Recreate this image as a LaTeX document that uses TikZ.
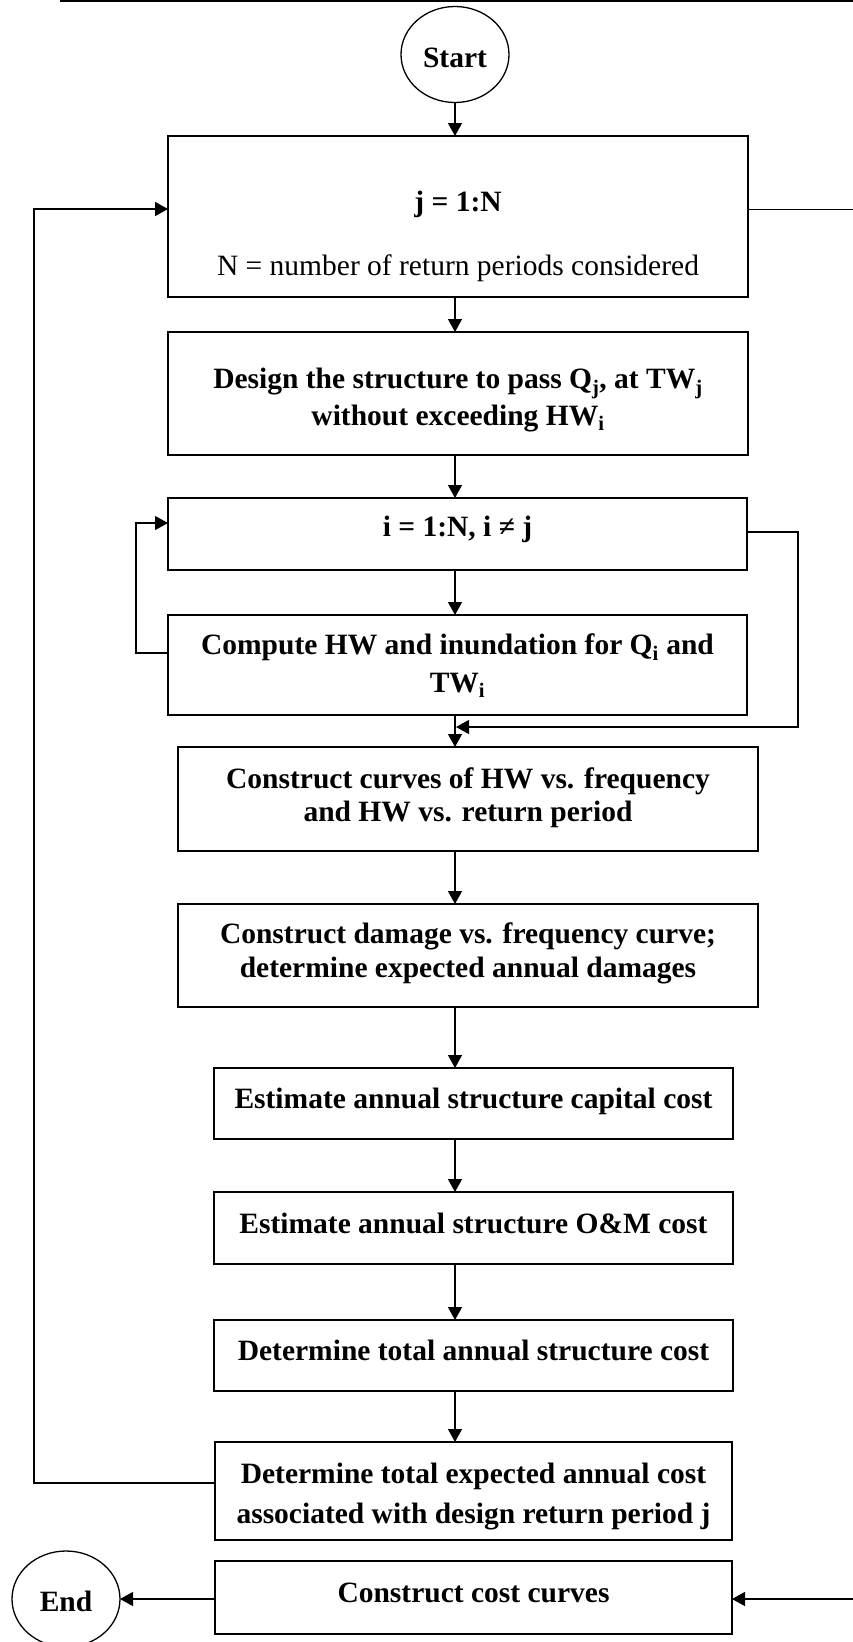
\documentclass[tikz,border=0pt]{standalone}
\usepackage{fontspec}
\setmainfont{Liberation Serif}
\usetikzlibrary{arrows.meta,shapes.geometric}
\begin{document}
\begin{tikzpicture}[x=1pt,y=-1pt,
  txt/.style={anchor=base, inner sep=0pt, font=\fontsize{29.5}{33}\selectfont\bfseries},
  rtxt/.style={anchor=base, inner sep=0pt, font=\fontsize{29.5}{33}\selectfont},
  box/.style={draw, line width=1.3pt, rectangle, inner sep=0pt, outer sep=0pt},
  term/.style={draw, line width=1.3pt, ellipse, inner sep=0pt, outer sep=0pt, minimum width=108pt, minimum height=96pt},
  arr/.style={line width=1.3pt, -{Triangle[length=13pt,width=14pt]}},
  ln/.style={line width=1.3pt}]
\useasboundingbox (0,0) rectangle (853,1642);
\fill[white] (0,0) rectangle (853,1642);

% top rule
\coordinate (T1) at (60,1);
\coordinate (T2) at (853,1);
\draw[line width=2pt] (T1) -- (T2);

% terminals
\node[term] (Start) at (455,54.5) {};
\node[txt] (StartT) at (455,67.5) {Start};
\node[term] (End) at (66,1599) {};
\node[txt] (EndT) at (66,1611) {End};

% boxes
\node[box, minimum width=580pt, minimum height=161pt] (B1) at (458,216.5) {};
\node[txt]  (B1a) at (458,211.5) {j = 1:N};
\node[rtxt] (B1b) at (458,275) {N = number of return periods considered};

\node[box, minimum width=580pt, minimum height=123pt] (B2) at (458,393.5) {};
\node[txt] (B2a) at (458,388.5) {Design the structure to pass Q\textsubscript{j}, at TW\textsubscript{j}};
\node[txt] (B2b) at (458,425) {without exceeding HW\textsubscript{i}};

\node[box, minimum width=579pt, minimum height=72pt] (B3) at (457.5,534) {};
\node[txt] (B3a) at (457.5,536.5) {i = 1:N, i ≠ j};

\node[box, minimum width=579pt, minimum height=100pt] (B4) at (457.5,665) {};
\node[txt] (B4a) at (457.5,654.5) {Compute HW and inundation for Q\textsubscript{i} and};
\node[txt] (B4b) at (457.5,692) {TW\textsubscript{i}};

\node[box, minimum width=580pt, minimum height=104pt] (B5) at (468,799) {};
\node[txt] (B5a) at (468,788) {Construct curves of HW vs. frequency};
\node[txt] (B5b) at (468,821) {and HW vs. return period};

\node[box, minimum width=580pt, minimum height=103pt] (B6) at (468,955.5) {};
\node[txt] (B6a) at (468,943) {Construct damage vs. frequency curve;};
\node[txt] (B6b) at (468,977) {determine expected annual damages};

\node[box, minimum width=519pt, minimum height=71pt] (B7) at (473.5,1103.5) {};
\node[txt] (B7a) at (473.5,1108) {Estimate annual structure capital cost};

\node[box, minimum width=519pt, minimum height=72pt] (B8) at (473.5,1228) {};
\node[txt] (B8a) at (473.5,1233) {Estimate annual structure O\&M cost};

\node[box, minimum width=519pt, minimum height=71pt] (B9) at (473.5,1355.5) {};
\node[txt] (B9a) at (473.5,1360.5) {Determine total annual structure cost};

\node[box, minimum width=517pt, minimum height=98pt] (B10) at (473.5,1491) {};
\node[txt] (B10a) at (473.5,1483) {Determine total expected annual cost};
\node[txt] (B10b) at (473.5,1523) {associated with design return period j};

\node[box, minimum width=517pt, minimum height=73pt] (B11) at (473.5,1597.5) {};
\node[txt] (B11a) at (473.5,1602.5) {Construct cost curves};

% main column
\coordinate (col) at (455,0);
\draw[arr] (Start.south) -- (col |- B1.north);
\draw[arr] (col |- B1.south) -- (col |- B2.north);
\draw[arr] (col |- B2.south) -- (col |- B3.north);
\draw[arr] (col |- B3.south) -- (col |- B4.north);
\draw[arr] (col |- B4.south) -- (col |- B5.north);
\draw[arr] (col |- B5.south) -- (col |- B6.north);
\draw[arr] (col |- B6.south) -- (col |- B7.north);
\draw[arr] (col |- B7.south) -- (col |- B8.north);
\draw[arr] (col |- B8.south) -- (col |- B9.north);
\draw[arr] (col |- B9.south) -- (col |- B10.north);

% inner loops
\draw[arr] ([yshift=12pt]B4.west) -| ([xshift=-32pt,yshift=11pt]B3.west) -- ([yshift=11pt]B3.west);
\coordinate (RJ) at (456,727);
\draw[arr] ([yshift=2pt]B3.east) -- ++(51,0) |- (RJ);

% outer loop
\draw[arr, line width=1.8pt] ([yshift=8pt]B10.west) -| ([xshift=-134pt,yshift=7.5pt]B1.west) -- ([yshift=7.5pt]B1.west);

% right exits
\coordinate (RE1) at (853,209.5);
\draw[ln] ([yshift=7pt]B1.east) -- (RE1);
\coordinate (RE2) at (853,1599);
\draw[arr] (RE2) -- (B11.east |- RE2);
\draw[arr] (B11.west |- End) -- (End.east);
\end{tikzpicture}
\end{document}
